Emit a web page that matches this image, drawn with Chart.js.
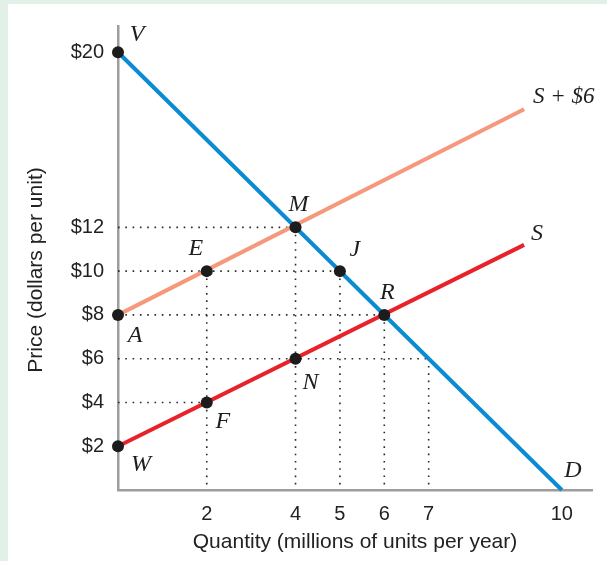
<!DOCTYPE html>
<html>
<head>
<meta charset="utf-8">
<script src="https://cdn.jsdelivr.net/npm/chart.js@4"></script>
<style>
  html, body { margin: 0; padding: 0; }
  body { width: 607px; height: 561px; background: #e2f1e8; position: relative; overflow: hidden; }
  #panel { position: absolute; left: 8px; top: 4px; right: 0; bottom: 0; background: #ffffff; }
  #c { position: absolute; left: 0; top: 0; }
</style>
</head>
<body>
<div id="panel"></div>
<canvas id="c" width="607" height="561"></canvas>
<script>
// ---- data ----
const xTicks = [2, 4, 5, 6, 7, 10];
const yTicks = [2, 4, 6, 8, 10, 12, 20];
const demandX = [0, 10];
const demandY = [20, 0];
const supplyX = [0, 9.15];
const supplyY = [2, 11.2];
const taxSupplyX = [0, 9.15];
const taxSupplyY = [8, 17.4];
const pointNames = ['V', 'M', 'J', 'R', 'A', 'E', 'N', 'F', 'W'];
const pointX = [0, 4, 5, 6, 0, 2, 4, 2, 0];
const pointY = [20, 12, 10, 8, 8, 10, 6, 4, 2];
const hGuideY = [12, 10, 8, 6, 4];
const hGuideXEnd = [4, 5, 6, 7, 2];
const vGuideX = [2, 4, 5, 6, 7];
const vGuideYTop = [10, 12, 10, 8, 6];
const curveNames = ['D', 'S', 'S + $6'];
const xTitle = 'Quantity (millions of units per year)';
const yTitle = 'Price (dollars per unit)';

// ---- build ----
const zip = (xs, ys) => xs.map((x, i) => ({ x: x, y: ys[i] }));
const guideStyle = {
  showLine: true, pointRadius: 0, borderColor: '#2a2a2a', borderWidth: 1.6,
  borderDash: [1.6, 5.7], fill: false, clip: false, order: 3
};
const datasets = [];
hGuideY.forEach((y, i) => datasets.push(Object.assign({ data: [{ x: 0, y: y }, { x: hGuideXEnd[i], y: y }] }, guideStyle)));
vGuideX.forEach((x, i) => datasets.push(Object.assign({ data: [{ x: x, y: vGuideYTop[i] }, { x: x, y: 0 }] }, guideStyle)));
datasets.push({ data: zip(taxSupplyX, taxSupplyY), showLine: true, pointRadius: 0, borderColor: '#f5987b', borderWidth: 4, clip: false, order: 2 });
datasets.push({ data: zip(supplyX, supplyY), showLine: true, pointRadius: 0, borderColor: '#e8222b', borderWidth: 4, clip: false, order: 2 });
datasets.push({ data: zip(demandX, demandY), showLine: true, pointRadius: 0, borderColor: '#0a8bd2', borderWidth: 4, clip: false, order: 1 });
datasets.push({ data: zip(pointX, pointY), showLine: false, pointRadius: 6, pointBackgroundColor: '#1c1c1c', pointBorderWidth: 0, clip: false, order: 0 });

// label offsets (pixels) relative to anchors
const pointLabelOffset = {
  V: [19, -18], M: [3, -23], J: [15, -21], R: [3, -22], A: [17, 21],
  E: [-11, -22], N: [15, 24], F: [16, 19], W: [23, 18]
};

const sansFont = '"Liberation Sans", Arial, sans-serif';
const labelPlugin = {
  id: 'labels',
  afterDatasetsDraw(chart) {
    const ctx = chart.ctx, xs = chart.scales.x, ys = chart.scales.y;
    ctx.save();
    ctx.fillStyle = '#1e1e1e';
    ctx.font = 'italic 24px "Liberation Serif", "DejaVu Serif", serif';
    ctx.textAlign = 'center';
    ctx.textBaseline = 'middle';
    pointNames.forEach((n, i) => {
      const o = pointLabelOffset[n];
      ctx.fillText(n, xs.getPixelForValue(pointX[i]) + o[0], ys.getPixelForValue(pointY[i]) + o[1]);
    });
    const dEnd = demandX.length - 1, sEnd = supplyX.length - 1, tEnd = taxSupplyX.length - 1;
    ctx.fillText(curveNames[0], xs.getPixelForValue(demandX[dEnd]) + 11, ys.getPixelForValue(demandY[dEnd]) - 19);
    ctx.textAlign = 'left';
    ctx.fillText(curveNames[1], xs.getPixelForValue(supplyX[sEnd]) + 7, ys.getPixelForValue(supplyY[sEnd]) - 11);
    ctx.font = 'italic 23px "Liberation Serif", "DejaVu Serif", serif';
    ctx.fillText(curveNames[2], xs.getPixelForValue(taxSupplyX[tEnd]) + 9, ys.getPixelForValue(taxSupplyY[tEnd]) - 12);
    // axis titles
    ctx.fillStyle = '#222';
    ctx.font = '21px ' + sansFont;
    ctx.textAlign = 'center';
    ctx.textBaseline = 'alphabetic';
    ctx.fillText(xTitle, (chart.chartArea.left + chart.chartArea.right) / 2, 548);
    ctx.translate(42, 270);
    ctx.rotate(-Math.PI / 2);
    ctx.fillText(yTitle, 0, 0);
    ctx.restore();
  }
};

new Chart(document.getElementById('c'), {
  type: 'scatter',
  data: { datasets: datasets },
  options: {
    responsive: false,
    animation: false,
    events: [],
    layout: { padding: { left: 0, right: 15, top: 21.7, bottom: 0 } },
    plugins: { legend: { display: false }, tooltip: { enabled: false } },
    scales: {
      x: {
        type: 'linear', min: 0, max: 10.68,
        afterBuildTicks: s => { s.ticks = xTicks.map(v => ({ value: v })); },
        afterFit: s => { s.height = 71; },
        grid: { display: false, drawTicks: false },
        border: { display: true, color: '#9d9d9d', width: 2.5 },
        ticks: { padding: 12, color: '#222', font: { family: sansFont, size: 20 }, maxRotation: 0, autoSkip: false }
      },
      y: {
        type: 'linear', min: 0, max: 21.2,
        afterBuildTicks: s => { s.ticks = yTicks.map(v => ({ value: v })); },
        afterFit: s => { s.width = 118; },
        grid: { display: false, drawTicks: false },
        border: { display: true, color: '#9d9d9d', width: 2.5 },
        ticks: { padding: 14, color: '#222', font: { family: sansFont, size: 20 }, autoSkip: false, callback: v => '$' + v }
      }
    }
  },
  plugins: [labelPlugin]
});
</script>
</body>
</html>
